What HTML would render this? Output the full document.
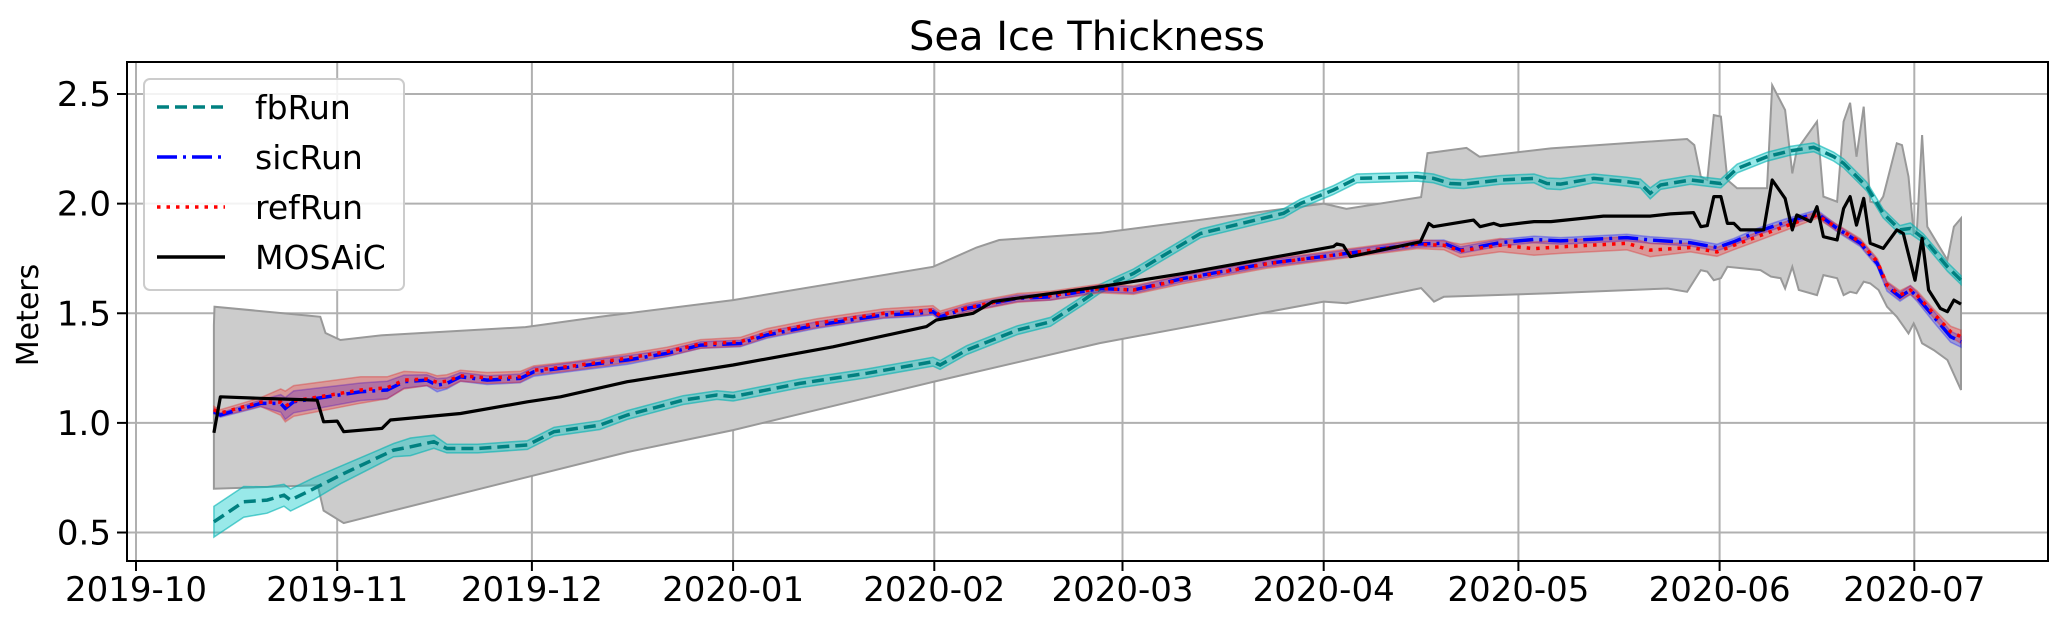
<!DOCTYPE html>
<html><head><meta charset="utf-8"><title>Sea Ice Thickness</title>
<style>
html,body{margin:0;padding:0;background:#fff;}
svg{display:block;font-family:"DejaVu Sans","Liberation Sans",sans-serif;}
</style></head>
<body>
<svg id="chart" width="2067" height="621" viewBox="0 0 2067 621" xmlns="http://www.w3.org/2000/svg">
<defs><clipPath id="plotclip"><rect x="127" y="62" width="1921" height="499"/></clipPath></defs>
<text x="1087" y="50" font-size="40" text-anchor="middle" fill="#000">Sea Ice Thickness</text>
<text x="0" y="0" font-size="30" text-anchor="middle" fill="#000" transform="translate(38,315) rotate(-90)">Meters</text>
<g id="grid"></g>
<g id="marks" clip-path="url(#plotclip)"></g>
<rect x="127" y="62" width="1921" height="499" fill="none" stroke="#000" stroke-width="2"/>
<g id="ticks"></g>
<g id="legend">
  <rect x="144" y="79" width="260" height="211" rx="6" fill="#fff" fill-opacity="0.85" stroke="#cccccc" stroke-width="2"/>
  <g>
    <line x1="157" y1="107" x2="225" y2="107" stroke="#008080" stroke-width="3.5" stroke-dasharray="12,6"/>
    <text x="255" y="119" font-size="33" fill="#000">fbRun</text>
  </g>
  <g>
    <line x1="157" y1="157" x2="225" y2="157" stroke="#0000ff" stroke-width="3.5" stroke-dasharray="20,6,3,6"/>
    <text x="255" y="169" font-size="33" fill="#000">sicRun</text>
  </g>
  <g>
    <line x1="157" y1="207" x2="225" y2="207" stroke="#ff0000" stroke-width="3.5" stroke-dasharray="3.5,6"/>
    <text x="255" y="219" font-size="33" fill="#000">refRun</text>
  </g>
  <g>
    <line x1="157" y1="257" x2="225" y2="257" stroke="#000" stroke-width="3.5"/>
    <text x="255" y="269" font-size="33" fill="#000">MOSAiC</text>
  </g>
</g>
</svg>
<script>
// ---- data (days since 2019-10-01) ----
const monthLabels = ["2019-10","2019-11","2019-12","2020-01","2020-02","2020-03","2020-04","2020-05","2020-06","2020-07"];
const monthDays = [0,31,61,92,123,152,183,213,244,274];
const yTickValues = [0.5,1.0,1.5,2.0,2.5];
const yTickLabels = ["0.5","1.0","1.5","2.0","2.5"];

const bandUpDays = [12,12.1,28.4,29.2,31.5,38,60,71.5,92,122.8,129.5,133,148.5,183,186.5,198,199,205,207,218,239,240.1,241.1,242.1,243.1,244.2,245.2,246.7,251.3,252.1,254.1,255.2,255.9,259,260,262.1,263.1,264.1,265.1,266.2,267.2,268.5,269.2,271.3,272.1,273.1,273.9,274.4,275.2,276,279.1,280.1,281.2];
const bandUp = [1.446,1.53,1.484,1.41,1.378,1.40,1.437,1.484,1.56,1.712,1.80,1.834,1.866,2.0,1.976,2.03,2.23,2.254,2.214,2.252,2.295,2.267,2.123,2.108,2.404,2.397,2.108,2.07,2.07,2.54,2.427,2.138,2.245,2.374,2.032,2.009,2.374,2.46,2.214,2.442,2.009,2.0,2.032,2.275,2.267,2.123,1.864,1.88,2.313,1.895,1.743,1.895,1.933];
const bandLoDays = [12,28,28.9,32,38,75.7,92,122.8,148.5,183,186.5,198,200,201.5,218,236,239,241.1,242.1,243.1,244.2,245.2,250.3,251.9,253.4,254.1,255.2,256.2,259,260,262.1,263.1,264.1,265.1,266.2,267.2,268.5,269.8,271.3,273.1,273.9,274.4,275.2,277,279.1,281.2];
const bandLo = [0.70,0.716,0.60,0.543,0.588,0.867,0.967,1.187,1.364,1.553,1.546,1.615,1.553,1.575,1.591,1.613,1.598,1.697,1.69,1.651,1.66,1.712,1.697,1.667,1.66,1.613,1.712,1.606,1.583,1.674,1.66,1.583,1.598,1.591,1.644,1.636,1.606,1.53,1.484,1.408,1.454,1.423,1.363,1.332,1.287,1.15];

const fbDays = [12,16.6,20.2,22.8,23.8,27.4,31.5,39.7,42.3,45.9,47.9,52.6,60.3,64.4,71.5,75.7,84.3,89.5,92,102.3,112.6,122.8,123.9,128,135.8,140.9,146,148.6,153.7,164,176.8,179.4,184.5,188.1,197.4,199.9,202.5,204.6,210.2,215.4,217.4,219.5,224.6,229.7,231.8,233.3,234.9,239.5,244.2,246.7,251.3,254.9,258.5,261.6,263.1,266.7,269.2,271.8,273.4,275.4,279.1,281.2];
const fbVals = [0.549,0.64,0.648,0.67,0.648,0.70,0.762,0.876,0.891,0.914,0.883,0.883,0.899,0.96,0.99,1.036,1.104,1.127,1.12,1.18,1.226,1.279,1.264,1.332,1.423,1.461,1.56,1.613,1.682,1.864,1.956,2.0,2.062,2.115,2.123,2.115,2.092,2.089,2.108,2.115,2.092,2.089,2.115,2.1,2.092,2.047,2.085,2.108,2.092,2.16,2.214,2.241,2.257,2.214,2.184,2.077,1.955,1.88,1.887,1.842,1.712,1.651];
const fbSpread = [0.07,0.07,0.06,0.05,0.05,0.05,0.04,0.03,0.04,0.03,0.02,0.02,0.02,0.02,0.02,0.02,0.02,0.02,0.02,0.02,0.02,0.02,0.02,0.02,0.02,0.02,0.02,0.02,0.02,0.02,0.02,0.02,0.02,0.02,0.02,0.02,0.02,0.02,0.02,0.02,0.025,0.025,0.02,0.02,0.02,0.025,0.02,0.02,0.02,0.02,0.02,0.02,0.02,0.02,0.02,0.02,0.02,0.02,0.025,0.02,0.02,0.02];

const modelDays = [12,13,19.2,22.3,23.0,24.3,34.6,38.7,41.3,44.8,46.4,47.9,50,54.1,59.2,61.3,67.4,75.7,81.8,87,93.1,97.2,104.9,115.2,120.3,122.8,123.9,128,135.8,140.9,148.6,153.7,161.4,174.2,184.5,197.4,201.5,204.1,210.2,215.4,219.5,229.7,233.3,239.5,243.6,246.2,249.8,253.9,259,262.1,265.7,268.3,269.8,271.8,273.4,274.4,277,279.6,281.2];
const sicVals = [1.051,1.036,1.089,1.089,1.066,1.096,1.142,1.15,1.188,1.195,1.172,1.18,1.21,1.195,1.203,1.233,1.256,1.287,1.317,1.355,1.362,1.401,1.446,1.492,1.5,1.507,1.484,1.522,1.568,1.575,1.613,1.606,1.659,1.727,1.765,1.816,1.819,1.788,1.822,1.837,1.83,1.845,1.834,1.822,1.8,1.826,1.872,1.913,1.956,1.887,1.819,1.727,1.621,1.575,1.606,1.575,1.484,1.393,1.37];
const sicSpread = [0.01,0.01,0.015,0.04,0.05,0.05,0.04,0.04,0.03,0.025,0.03,0.025,0.02,0.02,0.02,0.02,0.02,0.02,0.015,0.015,0.015,0.015,0.015,0.015,0.015,0.015,0.015,0.015,0.015,0.015,0.015,0.015,0.015,0.015,0.015,0.015,0.015,0.015,0.015,0.015,0.015,0.015,0.015,0.015,0.015,0.015,0.015,0.015,0.015,0.015,0.015,0.015,0.02,0.02,0.02,0.02,0.025,0.025,0.025];
const refVals = [1.06,1.045,1.095,1.095,1.075,1.1,1.15,1.16,1.195,1.2,1.185,1.19,1.215,1.205,1.21,1.24,1.26,1.295,1.325,1.36,1.37,1.41,1.455,1.5,1.51,1.515,1.49,1.525,1.57,1.58,1.613,1.606,1.655,1.725,1.765,1.815,1.81,1.785,1.811,1.795,1.803,1.819,1.788,1.80,1.78,1.81,1.849,1.895,1.948,1.89,1.825,1.735,1.63,1.583,1.606,1.583,1.499,1.416,1.393];
const refSpread = [0.015,0.015,0.02,0.06,0.07,0.07,0.06,0.05,0.04,0.03,0.03,0.03,0.025,0.025,0.025,0.02,0.02,0.02,0.02,0.02,0.02,0.02,0.02,0.02,0.02,0.02,0.02,0.02,0.02,0.02,0.02,0.02,0.02,0.02,0.02,0.02,0.02,0.03,0.03,0.03,0.03,0.03,0.03,0.02,0.02,0.02,0.02,0.02,0.015,0.015,0.015,0.015,0.015,0.02,0.02,0.02,0.02,0.025,0.03];

const mosDays = [12,13,19.2,27.9,28.9,31.0,32.0,37.9,39.2,50,60.3,65.4,75.7,92,107.4,121.8,123.3,129,132,148.6,161.4,184.5,185,186,187.1,197.9,199.2,199.9,206.1,207.1,209.2,210.2,215.4,218,226.1,233.3,236.4,240,241.1,242.1,243.1,244.2,245.2,246.2,247.2,250.8,252.1,254.1,255.2,255.9,258,259,260,262.1,263.1,264.1,265.1,266.2,267.2,269.2,271.3,272.3,274.1,275.2,276.2,278,279.1,280.1,281.2];
const mosVals = [0.955,1.119,1.112,1.104,1.005,1.008,0.96,0.975,1.013,1.043,1.096,1.119,1.188,1.264,1.347,1.439,1.469,1.5,1.553,1.621,1.682,1.804,1.816,1.81,1.758,1.826,1.91,1.895,1.925,1.895,1.91,1.9,1.918,1.918,1.943,1.943,1.953,1.959,1.895,1.9,2.032,2.032,1.91,1.91,1.88,1.88,2.108,2.024,1.88,1.948,1.918,1.986,1.849,1.834,1.978,2.032,1.902,2.024,1.819,1.796,1.88,1.864,1.651,1.842,1.606,1.522,1.507,1.56,1.542];

// ---- axes ----
const X0 = 127, X1 = 2048, Y0 = 62, Y1 = 561;
const dayMin = -1.387, dayMax = 294.6;
const vMin = 0.3701, vMax = 2.6460;
function xs(d){ return X0 + (d - dayMin) / (dayMax - dayMin) * (X1 - X0); }
function ys(v){ return Y1 - (v - vMin) / (vMax - vMin) * (Y1 - Y0); }

const NS = "http://www.w3.org/2000/svg";
function mk(tag, attrs, parent){ const e = document.createElementNS(NS, tag); for (const k in attrs) e.setAttribute(k, attrs[k]); parent.appendChild(e); return e; }
const grid = document.getElementById("grid");
const ticks = document.getElementById("ticks");
const marks = document.getElementById("marks");

monthDays.forEach((d, i) => {
  const x = xs(d);
  const g = mk("line", {x1:x, x2:x, y1:Y0, y2:Y1, stroke:"#b0b0b0", "stroke-width":2}, grid);
  
  
  const t = mk("line", {x1:x, x2:x, y1:Y1, y2:Y1+10, stroke:"#000", "stroke-width":2}, ticks);
  
  
  const lb = mk("text", {x:x, y:601, "font-size":34, "text-anchor":"middle", fill:"#000"}, ticks);
  lb.textContent = monthLabels[i];
  
  
});
yTickValues.forEach((v, i) => {
  const y = ys(v);
  const g = mk("line", {x1:X0, x2:X1, y1:y, y2:y, stroke:"#b0b0b0", "stroke-width":2}, grid);
  
  
  const t = mk("line", {x1:X0-10, x2:X0, y1:y, y2:y, stroke:"#000", "stroke-width":2}, ticks);
  
  
  const lb = mk("text", {x:X0-16, y:y+12, "font-size":34, "text-anchor":"end", fill:"#000"}, ticks);
  lb.textContent = yTickLabels[i];
  
  
});

function linePts(days, vals, off){ return days.map((d,i) => xs(d).toFixed(1) + "," + ys(vals[i] + (off ? off[i] : 0)).toFixed(1)); }
function bandPath(uDays, uVals, lDays, lVals){
  const up = uDays.map((d,i) => xs(d).toFixed(1) + "," + ys(uVals[i]).toFixed(1));
  const lo = lDays.map((d,i) => xs(d).toFixed(1) + "," + ys(lVals[i]).toFixed(1)).reverse();
  return "M" + up.join("L") + "L" + lo.join("L") + "Z";
}
function spreadBand(days, vals, spr){
  const up = vals.map((v,i) => v + spr[i]);
  const lo = vals.map((v,i) => v - spr[i]);
  return bandPath(days, up, days, lo);
}

const gb = mk("path", {d: bandPath(bandUpDays, bandUp, bandLoDays, bandLo), fill:"#cccccc", stroke:"#999999", "stroke-width":2}, marks);



const fbB = mk("path", {d: spreadBand(fbDays, fbVals, fbSpread), fill:"#00c8c8", "fill-opacity":0.4, stroke:"#00b0b0", "stroke-opacity":0.6, "stroke-width":1.5}, marks);


const sicB = mk("path", {d: spreadBand(modelDays, sicVals, sicSpread), fill:"#0000ff", "fill-opacity":0.25, stroke:"#0000ff", "stroke-opacity":0.3, "stroke-width":1.5}, marks);


const refB = mk("path", {d: spreadBand(modelDays, refVals, refSpread), fill:"#ff0000", "fill-opacity":0.25, stroke:"#dd3333", "stroke-opacity":0.4, "stroke-width":1.5}, marks);



const fbL = mk("polyline", {points: linePts(fbDays, fbVals).join(" "), fill:"none", stroke:"#008080", "stroke-width":3.5, "stroke-dasharray":"12,6"}, marks);


const sicL = mk("polyline", {points: linePts(modelDays, sicVals).join(" "), fill:"none", stroke:"#0000ff", "stroke-width":3.5, "stroke-dasharray":"20,6,3,6"}, marks);


const refL = mk("polyline", {points: linePts(modelDays, refVals).join(" "), fill:"none", stroke:"#ff0000", "stroke-width":3.5, "stroke-dasharray":"3.5,6"}, marks);


const mosL = mk("polyline", {points: linePts(mosDays, mosVals).join(" "), fill:"none", stroke:"#000000", "stroke-width":3.2, "stroke-linejoin":"round"}, marks);


</script>
</body></html>
